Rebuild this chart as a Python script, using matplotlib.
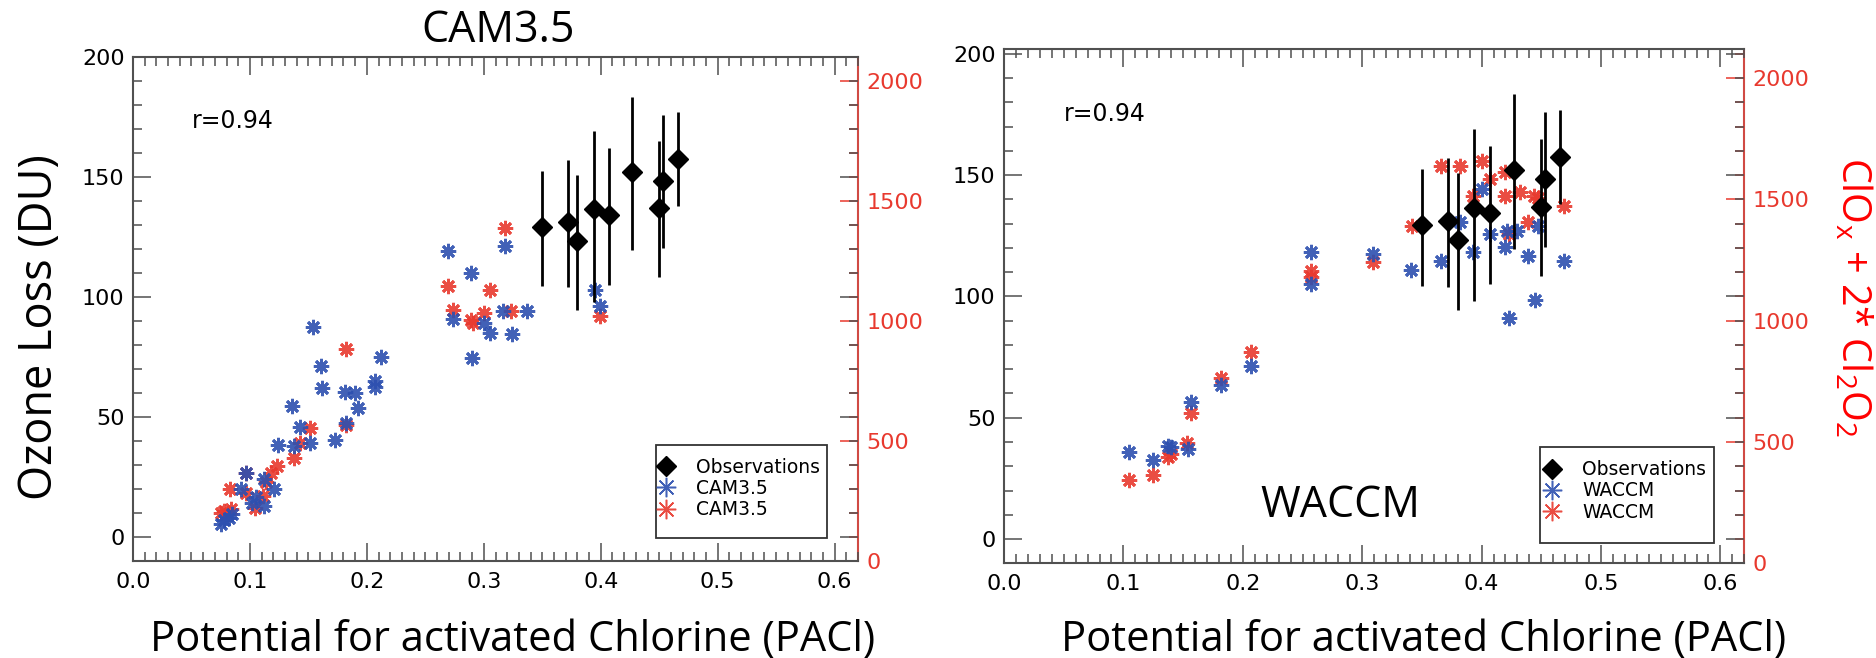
import numpy as np
import matplotlib.pyplot as plt
from matplotlib.ticker import MultipleLocator
from matplotlib.patches import Rectangle

plt.rcParams['font.family'] = ['DejaVu Sans']

# observations (same in both panels): PACl, ozone loss (DU), error bar range
obs_pacl = [0.350, 0.372, 0.380, 0.394, 0.407, 0.427, 0.450, 0.453, 0.466]
obs_loss = [129.3, 131.3, 123.2, 136.5, 134.3, 152.0, 137.0, 148.5, 157.5]
obs_low = [104.5, 104.0, 94.5, 98.0, 105.0, 119.5, 108.5, 120.5, 138.0]
obs_high = [152.5, 157.0, 151.0, 169.0, 162.0, 183.5, 165.0, 176.0, 177.0]

# CAM3.5 ozone loss (blue, left axis)
cam_pacl_o3 = [0.075, 0.078, 0.082, 0.085, 0.092, 0.097, 0.102, 0.105, 0.112, 0.112,
               0.121, 0.124, 0.136, 0.138, 0.143, 0.151, 0.154, 0.161, 0.162, 0.173,
               0.181, 0.182, 0.190, 0.192, 0.207, 0.207, 0.212, 0.269, 0.274, 0.289,
               0.290, 0.300, 0.305, 0.316, 0.318, 0.324, 0.337, 0.395, 0.399]
cam_loss = [5.5, 7.0, 8.0, 9.5, 19.8, 26.8, 14.3, 16.5, 12.9, 24.3,
            20.1, 38.2, 54.7, 37.8, 45.8, 39.2, 87.6, 71.3, 62.0, 40.3,
            60.6, 47.5, 60.2, 53.7, 64.8, 62.7, 74.8, 119.0, 90.7, 110.2,
            74.5, 89.0, 84.9, 94.2, 121.2, 84.6, 94.1, 102.8, 96.2]

# CAM3.5 ClOx + 2*Cl2O2 (red, right axis)
cam_pacl_cl = [0.075, 0.078, 0.081, 0.084, 0.083, 0.097, 0.097, 0.104, 0.111, 0.114,
               0.118, 0.123, 0.138, 0.143, 0.151, 0.182, 0.182, 0.269, 0.274, 0.289,
               0.291, 0.300, 0.305, 0.318, 0.323, 0.399]
cam_clox = [200, 210, 195, 215, 302, 368, 285, 222, 270, 329,
            368, 395, 430, 492, 554, 882, 568, 1146, 1045, 1004,
            993, 1034, 1131, 1387, 1041, 1020]

# WACCM ozone loss (blue, left axis)
waccm_pacl_o3 = [0.105, 0.125, 0.137, 0.140, 0.154, 0.157, 0.182, 0.207, 0.257, 0.257,
                 0.309, 0.341, 0.366, 0.382, 0.393, 0.400, 0.407, 0.420, 0.421, 0.423,
                 0.430, 0.439, 0.445, 0.447, 0.469]
waccm_loss = [36.0, 32.7, 38.5, 37.8, 37.1, 56.6, 63.5, 71.5, 118.2, 105.1,
              117.5, 110.9, 114.7, 130.5, 118.2, 144.2, 125.7, 120.2, 127.0, 91.1,
              127.0, 116.8, 98.6, 129.1, 114.7]

# WACCM ClOx + 2*Cl2O2 (red, right axis)
waccm_pacl_cl = [0.105, 0.125, 0.137, 0.140, 0.153, 0.157, 0.182, 0.207, 0.257, 0.257,
                 0.309, 0.342, 0.366, 0.382, 0.393, 0.400, 0.407, 0.420, 0.420, 0.423,
                 0.432, 0.439, 0.444, 0.447, 0.469]
waccm_clox = [345, 366, 437, 450, 496, 620, 762, 873, 1206, 1180,
              1240, 1391, 1636, 1636, 1515, 1659, 1586, 1614, 1512, 1357,
              1531, 1405, 1512, 1504, 1474]

GRAY = '#505050'
BLUE = '#2d50b0'
RED = '#e8392e'
LABEL_FONT = 'Open Sans'

W, H = 1876, 658
fig = plt.figure(figsize=(W / 100, H / 100), dpi=100)


def fx(px):
    return px / W


def fy(py):
    return 1 - py / H


def panel(rect, ylim, y2lim, px_o3, loss, px_cl, clox, name, leg_center, box):
    ax = fig.add_axes(rect)
    ax2 = ax.twinx()
    # ozone loss + observations drawn above the red ClOx points
    ax.set_zorder(ax2.get_zorder() + 1)
    ax.patch.set_visible(False)

    lo = np.array(obs_loss) - np.array(obs_low)
    hi = np.array(obs_high) - np.array(obs_loss)
    ax.errorbar(obs_pacl, obs_loss, yerr=[lo, hi], fmt='none', ecolor='black',
                elinewidth=2.0, capsize=0, zorder=3)
    h_obs, = ax.plot(obs_pacl, obs_loss, ls='none', marker='D', ms=10.5,
                     color='black', label='Observations', zorder=4)
    h_blue, = ax.plot(px_o3, loss, ls='none', marker=(8, 2, 0), ms=11, mew=2.0,
                      color=BLUE, alpha=0.9, label=name, zorder=2)
    h_red, = ax2.plot(px_cl, clox, ls='none', marker=(8, 2, 0), ms=11, mew=2.0,
                      color=RED, alpha=0.9, label=name)

    ax.set_xlim(0, 0.62)
    ax.set_ylim(*ylim)
    ax2.set_ylim(*y2lim)

    ax.xaxis.set_major_locator(MultipleLocator(0.1))
    ax.xaxis.set_minor_locator(MultipleLocator(0.01))
    ax.yaxis.set_major_locator(MultipleLocator(50))
    ax.yaxis.set_minor_locator(MultipleLocator(10))
    ax2.yaxis.set_major_locator(MultipleLocator(500))
    ax2.yaxis.set_minor_locator(MultipleLocator(100))
    ax.xaxis.set_major_formatter(lambda v, p: '%.1f' % v)

    ax.tick_params(which='both', direction='in', top=True, right=True,
                   color=GRAY, width=1.1, labelsize=16, labelcolor='black')
    ax.tick_params(which='major', length=13)
    ax.tick_params(which='minor', length=6.5)
    ax.tick_params(axis='x', pad=8)
    ax.tick_params(axis='y', pad=6)
    ax2.tick_params(which='both', direction='in', color=RED, width=1.1,
                    labelsize=16, labelcolor=RED, pad=6)
    ax2.tick_params(which='major', length=13)
    ax2.tick_params(which='minor', length=6.5)

    for s in ['left', 'top', 'bottom']:
        ax.spines[s].set_color(GRAY)
        ax.spines[s].set_linewidth(1.5)
        ax2.spines[s].set_visible(False)
    ax.spines['right'].set_visible(False)
    ax2.spines['right'].set_color('#d04a44')
    ax2.spines['right'].set_linewidth(1.5)

    ax.text(0.081, 0.873, 'r=0.94', transform=ax.transAxes, fontsize=17,
            va='center', ha='left')

    # legend frame + entries
    ax.add_patch(Rectangle((box[0], box[1]), box[2] - box[0], box[3] - box[1],
                           transform=ax.transAxes, facecolor='white',
                           edgecolor='#333333', lw=1.3, zorder=5))
    leg = ax.legend(handles=[h_obs, h_blue, h_red], loc='center left',
                    bbox_to_anchor=leg_center, frameon=False, fontsize=13.5,
                    borderpad=0, borderaxespad=0, handlelength=0.8,
                    handletextpad=1.2, labelspacing=0.12)
    leg.set_zorder(6)
    for h in leg.legend_handles[1:]:
        h.set_markersize(14)
        h.set_markeredgewidth(1.1)
    return ax, ax2


panel([fx(133), fy(561), fx(725), 504 / H], (-10, 200), (0, 2100),
      cam_pacl_o3, cam_loss, cam_pacl_cl, cam_clox, 'CAM3.5',
      (0.725, 0.1438), (0.721, 0.045, 0.957, 0.230))
panel([fx(1004), fy(563.3), fx(740.3), 514.3 / H], (-10, 202), (0, 2120),
      waccm_pacl_o3, waccm_loss, waccm_pacl_cl, waccm_clox, 'WACCM',
      (0.7305, 0.1406), (0.724, 0.039, 0.959, 0.227))

# slide-style labels around the panels
fig.text(fx(498.5), fy(42), 'CAM3.5', fontsize=31, family=LABEL_FONT,
         ha='center', va='baseline')
fig.text(fx(1340), fy(517), 'WACCM', fontsize=31, family=LABEL_FONT,
         ha='center', va='baseline')
fig.text(fx(513), fy(651), 'Potential for activated Chlorine (PACl)', fontsize=30,
         family=LABEL_FONT, ha='center', va='baseline')
fig.text(fx(1423.6), fy(651), 'Potential for activated Chlorine (PACl)', fontsize=30,
         family=LABEL_FONT, ha='center', va='baseline')
fig.text(fx(40), fy(326.7), 'Ozone Loss (DU)', fontsize=32.5, family=LABEL_FONT,
         rotation=90, ha='center', va='center')
fig.text(fx(1852), fy(297),
         r'ClO$_\mathregular{x}$ + 2* Cl$_\mathregular{2}$O$_\mathregular{2}$',
         fontsize=28.5, family=LABEL_FONT, color='red', rotation=270,
         ha='center', va='center')

plt.savefig('out.png', dpi=100)
